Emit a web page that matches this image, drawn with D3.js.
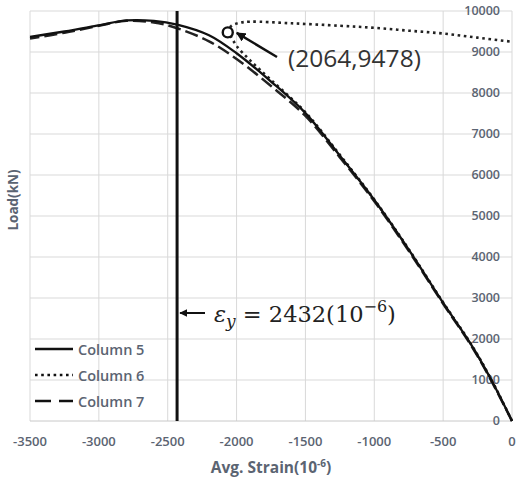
<!DOCTYPE html>
<html><head><meta charset="utf-8">
<script src="https://cdn.jsdelivr.net/npm/d3@7"></script>
<style>
body{margin:0;background:#fff;}
svg{display:block;}
</style></head>
<body>
<svg id="chart" width="517" height="484"></svg>
<script>
// ---- data ----
const xTicks = [-3500,-3000,-2500,-2000,-1500,-1000,-500,0];
const yTicks = [0,1000,2000,3000,4000,5000,6000,7000,8000,9000,10000];
const seriesNames = ["Column 5","Column 6","Column 7"];

const col5Strain = [0,-150,-300,-500,-750,-1000,-1250,-1500,-1750,-2000,-2200,-2432,-2600,-2800,-3000,-3250,-3500];
const col5Load   = [0,1000,1880,2880,4180,5390,6470,7510,8280,8970,9410,9670,9760,9770,9650,9500,9370];

const col7Strain = [0,-150,-300,-500,-750,-1000,-1250,-1500,-1750,-2000,-2200,-2432,-2600,-2800,-3000,-3250,-3500];
const col7Load   = [0,980,1860,2860,4150,5360,6430,7440,8170,8830,9260,9580,9720,9760,9640,9470,9330];

const col6Strain = [0,-150,-300,-500,-750,-1000,-1250,-1500,-1750,-1900,-2000,-2040,-2064,-2040,-1980,-1900,-1600,-1250,-1000,-750,-500,-250,0];
const col6Load   = [0,1010,1890,2890,4190,5400,6490,7530,8320,8790,9150,9370,9478,9630,9710,9740,9700,9640,9590,9520,9450,9350,9250];

const yieldStrain = -2432;
const peakPoint = {strain:-2064, load:9478};

// ---- setup ----
const svg = d3.select("#chart");
const x = d3.scaleLinear().domain([-3500,0]).range([30,512]);
const y = d3.scaleLinear().domain([0,10000]).range([421,11]);

const gridColor = "#d9d9d9";
const labelColor = "#5b6472";

// gridlines
svg.append("g").selectAll("line").data(xTicks).join("line")
  .attr("x1",d=>x(d)).attr("x2",d=>x(d))
  .attr("y1",y(10000)).attr("y2",y(0))
  .attr("stroke",gridColor).attr("stroke-width",1);
svg.append("g").selectAll("line").data(yTicks).join("line")
  .attr("x1",x(-3500)).attr("x2",x(0))
  .attr("y1",d=>y(d)).attr("y2",d=>y(d))
  .attr("stroke",d=>d===0?"#c8c8c8":gridColor).attr("stroke-width",1);

// x tick labels
svg.append("g").selectAll("text").data(xTicks).join("text")
  .attr("x",d=>x(d)).attr("y",446)
  .attr("text-anchor","middle")
  .attr("font-family","Open Sans, sans-serif").attr("font-weight","600").attr("font-size","13px")
  .attr("fill",labelColor)
  .text(d=>d);

// y tick labels (inside, right)
svg.append("g").selectAll("text").data(yTicks).join("text")
  .attr("x",500).attr("y",d=>y(d)).attr("dy","0.35em")
  .attr("text-anchor","end")
  .attr("font-family","Open Sans, sans-serif").attr("font-weight","600").attr("font-size","12.5px")
  .attr("fill",labelColor)
  .text(d=>d);

// axis titles
svg.append("text")
  .attr("transform","translate(18,200) rotate(-90)")
  .attr("text-anchor","middle")
  .attr("font-family","Open Sans, sans-serif").attr("font-weight","700").attr("font-size","13.5px")
  .attr("fill",labelColor).text("Load(kN)");

const xt = svg.append("text")
  .attr("x",271).attr("y",473).attr("text-anchor","middle")
  .attr("font-family","Open Sans, sans-serif").attr("font-weight","700").attr("font-size","15.5px")
  .attr("fill",labelColor);
xt.append("tspan").text("Avg. Strain(10");
xt.append("tspan").attr("font-size","10px").attr("dy","-6").text("-6");
xt.append("tspan").attr("dy","6").text(")");

// curves
const line = d3.line().x(d=>x(d[0])).y(d=>y(d[1])).curve(d3.curveCatmullRom.alpha(0.5));
const zip = (a,b)=>a.map((v,i)=>[v,b[i]]);

svg.append("path").datum(zip(col7Strain,col7Load))
  .attr("d",line).attr("fill","none").attr("stroke","#222").attr("stroke-width",2.5)
  .attr("stroke-dasharray","13,5");
svg.append("path").datum(zip(col6Strain,col6Load))
  .attr("d",line).attr("fill","none").attr("stroke","#222").attr("stroke-width",2.6)
  .attr("stroke-dasharray","2.6,3.6");
svg.append("path").datum(zip(col5Strain,col5Load))
  .attr("d",line).attr("fill","none").attr("stroke","#111").attr("stroke-width",2.3);

// yield line
svg.append("line")
  .attr("x1",x(yieldStrain)).attr("x2",x(yieldStrain))
  .attr("y1",y(10000)).attr("y2",y(0))
  .attr("stroke","#111").attr("stroke-width",3);

// arrow marker
const defs = svg.append("defs");
defs.append("marker").attr("id","ah").attr("viewBox","0 0 10 10")
  .attr("refX",9).attr("refY",5).attr("markerWidth",4).attr("markerHeight",4)
  .attr("markerUnits","strokeWidth").attr("orient","auto")
  .append("path").attr("d","M0,0 L10,5 L0,10 Z").attr("fill","#111");

// peak point circle + arrow + label
svg.append("circle")
  .attr("cx",x(peakPoint.strain)).attr("cy",y(peakPoint.load)).attr("r",5)
  .attr("fill","#fff").attr("stroke","#111").attr("stroke-width",2.4);
svg.append("line")
  .attr("x1",277).attr("y1",57)
  .attr("x2",x(peakPoint.strain)+9).attr("y2",y(peakPoint.load)+0.5)
  .attr("stroke","#111").attr("stroke-width",2.4).attr("marker-end","url(#ah)");
svg.append("text")
  .attr("x",288).attr("y",67)
  .attr("font-family","Open Sans, sans-serif").attr("font-size","24.5px")
  .attr("fill","#333").text(`(${-peakPoint.strain},${peakPoint.load})`);

// yield annotation
svg.append("line")
  .attr("x1",205).attr("y1",313).attr("x2",x(yieldStrain)+3).attr("y2",313)
  .attr("stroke","#111").attr("stroke-width",2).attr("marker-end","url(#ah)");
const et = svg.append("text").attr("x",214).attr("y",322)
  .attr("font-family","DejaVu Serif, serif").attr("font-size","22.5px").attr("fill","#222");
et.append("tspan").attr("font-style","italic").text("ε");
et.append("tspan").attr("font-style","italic").attr("font-size","17px").attr("dy","5").text("y");
et.append("tspan").attr("dy","-5").text(" = 2432(10");
et.append("tspan").attr("font-size","16px").attr("dy","-10").text("−6");
et.append("tspan").attr("dy","10").text(")");

// legend
const legY = [349,375,401];
const dashes = [null,"2.6,3.6","16,8"];
const lg = svg.append("g");
seriesNames.forEach((n,i)=>{
  lg.append("line").attr("x1",35).attr("x2",73).attr("y1",legY[i]).attr("y2",legY[i])
    .attr("stroke","#111").attr("stroke-width",2.4)
    .attr("stroke-dasharray",dashes[i]);
  lg.append("text").attr("x",78).attr("y",legY[i]+1).attr("dy","0.35em")
    .attr("font-family","Open Sans, sans-serif").attr("font-weight","600").attr("font-size","14.5px")
    .attr("fill",labelColor).text(n);
});
</script>
</body></html>
